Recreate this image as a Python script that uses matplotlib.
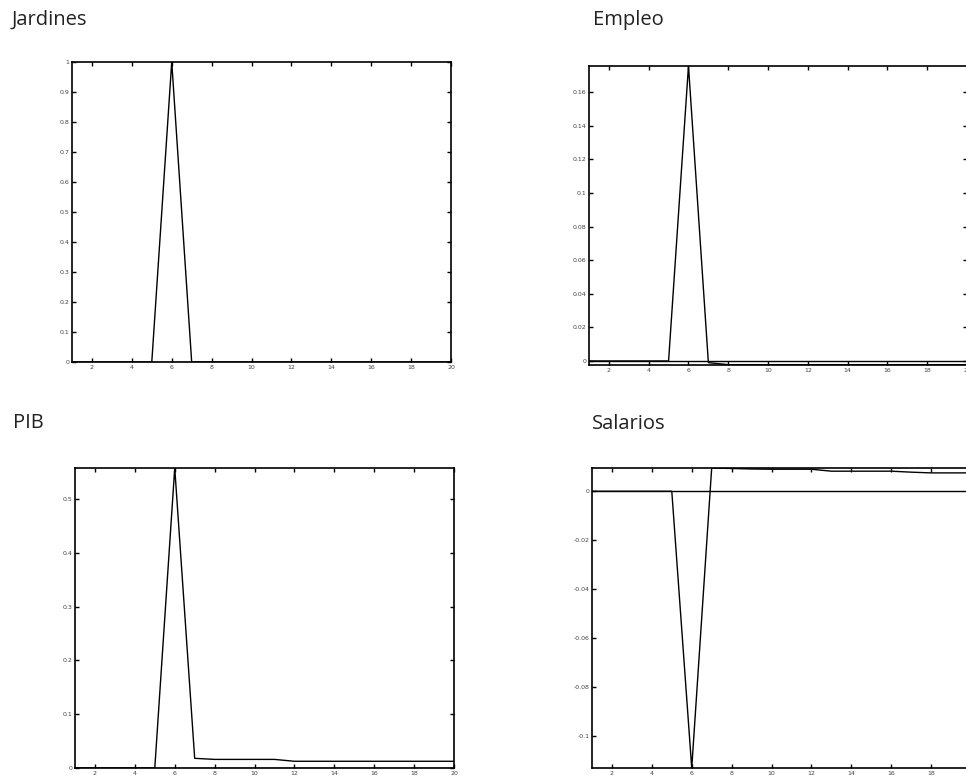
import numpy as np
import matplotlib
matplotlib.use("Agg")
import matplotlib.pyplot as plt
from matplotlib.ticker import FuncFormatter, MultipleLocator

# periodos 1..20
periodos = list(range(1, 21))

# respuestas
jardines = [0, 0, 0, 0, 0, 1.0, 0, 0, 0, 0, 0, 0, 0, 0, 0, 0, 0, 0, 0, 0]
empleo = [0, 0, 0, 0, 0, 0.1755, -0.001, -0.0022, -0.0022, -0.0022, -0.0022,
          -0.0022, -0.0022, -0.0022, -0.0022, -0.0022, -0.0022, -0.0022, -0.0022, -0.0022]
pib = [0, 0, 0, 0, 0, 0.558, 0.018, 0.016, 0.016, 0.016, 0.016, 0.0125,
       0.0125, 0.0125, 0.0125, 0.0125, 0.0125, 0.0125, 0.0125, 0.0125]
salarios = [0, 0, 0, 0, 0, -0.113, 0.0095, 0.0093, 0.0091, 0.009, 0.009, 0.009,
            0.0082, 0.0082, 0.0082, 0.0082, 0.0078, 0.0075, 0.0075, 0.0075]

titulos = ["Jardines", "Empleo", "PIB", "Salarios"]
series = [jardines, empleo, pib, salarios]
ylims = [(0, 1.0), (-0.0024, 0.1755), (0, 0.558), (-0.113, 0.0095)]
ypasos = [0.1, 0.02, 0.1, 0.02]

W, H = 966, 778
# cajas de ejes en pixeles: izquierda, arriba, derecha, abajo
cajas = [(72, 62, 451, 362), (589, 66, 967, 365), (75, 468, 454, 768), (592, 468, 971, 768)]
pos_titulo = [(12, 20), (593, 20), (13, 423), (592, 424)]


def etiqueta(v, p):
    v = round(v, 6)
    if v == 0:
        return "0"
    return "%g" % v


fig = plt.figure(figsize=(W / 100, H / 100), dpi=100)
fmt = FuncFormatter(etiqueta)

for i in range(4):
    l, t, r, b = cajas[i]
    ax = fig.add_axes([l / W, 1 - b / H, (r - l) / W, (b - t) / H])
    ax.plot(periodos, [0] * len(periodos), color="black", lw=1.0)
    ax.plot(periodos, series[i], color="black", lw=1.0)
    ax.set_xlim(1, 20)
    ax.set_ylim(*ylims[i])
    ax.xaxis.set_major_locator(MultipleLocator(2))
    ax.yaxis.set_major_locator(MultipleLocator(ypasos[i]))
    ax.xaxis.set_major_formatter(fmt)
    ax.yaxis.set_major_formatter(fmt)
    ax.tick_params(direction="in", length=3, width=1, top=True, right=True,
                   labelsize=4.5, labelcolor="#444444", pad=2)
    for s in ax.spines.values():
        s.set_linewidth(1.2)
    x0, y0 = pos_titulo[i]
    fig.text(x0 / W, 1 - y0 / H, titulos[i], fontsize=14.5, family="Open Sans",
             color="#222222", ha="left", va="center")

fig.savefig("out.png", dpi=100)
